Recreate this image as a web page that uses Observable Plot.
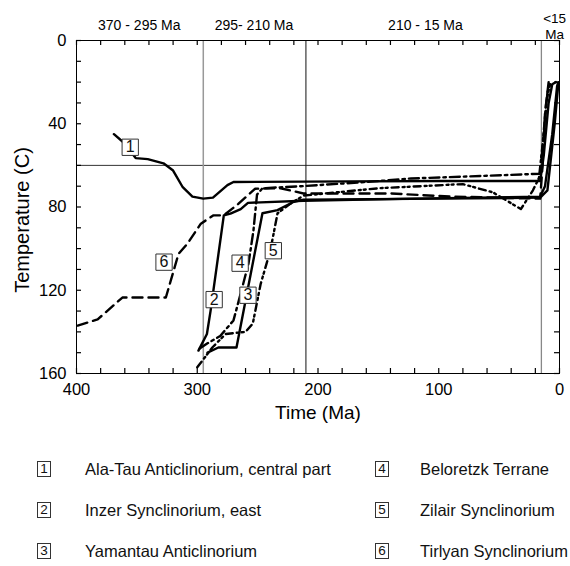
<!DOCTYPE html>
<html>
<head>
<meta charset="utf-8">
<script src="https://cdn.jsdelivr.net/npm/d3@7"></script>
<script src="https://cdn.jsdelivr.net/npm/@observablehq/plot@0.6"></script>
<style>
  html, body { margin: 0; padding: 0; background: #fff; }
  #wrap { position: relative; width: 570px; height: 566px; font-family: "Liberation Sans", Arial, sans-serif; }
  #wrap svg { display: block; }
  .lg-row { position: absolute; height: 20px; line-height: 20px; font-size: 16.5px; color: #111; white-space: nowrap; }
  .lg-box { position: absolute; top: 2px; width: 12px; height: 14px; border: 1px solid #333; font-size: 13.5px; line-height: 14px; text-align: center; }
  .lg-text { position: absolute; top: 0; }
</style>
</head>
<body>
<div id="wrap"></div>
<script>
// Time in Ma, temperature in °C
const curve1 = [[369,45],[361,49],[351,56.5],[341,57],[328,59],[320,62.5],[312,70.5],[304,75],[295,76],[287,75.5],[275,69.5],[270,68],[212,67.8],[100,67.5],[16,67.5],[13,55],[9,30],[6,21],[3,20]];
const curve2 = [[299,149],[292,141],[289,130],[278,84],[272.5,83.2],[264,81],[258,78],[212,77],[120,76],[16,75],[12,70],[6,45],[2,22],[1,20]];
const curve3 = [[291.5,150],[282.5,147.5],[267.5,147.5],[246,83],[233.5,81.5],[220,77.5],[212,76.5],[100,76],[16,75.5],[10,72],[4,40],[1,21]];
const curve4 = [[298,148],[291.5,145.5],[281,142],[270,134.5],[264,121.5],[257.5,107],[253.5,91.5],[250.5,74],[246,71],[214,70],[160,68],[123,66.3],[60,65],[16,64],[13,45],[10,25],[7,20]];
const curve5 = [[300,157],[296,154],[287.5,147.5],[276.5,141],[260,140],[254,136],[247.5,117],[239.5,101],[233.5,83],[223,78.5],[212,74.5],[150,71],[80,69],[55,73],[32,81],[22,72],[17,66],[14,50],[11,30],[8,21]];
const curve6 = [[399,137],[382.5,134],[362,123.5],[326,123.5],[315.5,102.5],[308,97.5],[297,88],[286.5,84],[278,84],[266,78.5],[252,71.2],[231,71],[212,73.5],[140,73.5],[90,75],[16,76],[14,60],[12,35],[9,20]];

const boxNums = ["1","2","3","4","5","6"];
const boxTime = [355.5, 286, 258, 264.5, 237, 327.5];
const boxTemp = [51.3, 124.5, 122.4, 107, 101, 106.5];

const legendNames = [
  "Ala-Tau Anticlinorium, central part",
  "Inzer Synclinorium, east",
  "Yamantau Anticlinorium",
  "Beloretzk Terrane",
  "Zilair Synclinorium",
  "Tirlyan Synclinorium"
];

const periodLabels = ["370 - 295 Ma", "295- 210 Ma", "210 - 15 Ma", "<15\nMa"];
const periodLabelTime = [348, 253, 111, 4];
const periodBounds = [295, 210, 15];
const xTickLabels = [400, 300, 200, 100, 0];
const yTickLabels = [0, 40, 80, 120, 160];
const xMinorTicks = d3.range(0, 401, 20);
const yMinorTicks = d3.range(0, 161, 10);
const refTemp = [60];

const curves = [curve1, curve2, curve3, curve4, curve5, curve6];
const dashes = [null, null, null, "10,4,2.5,4", "7,4,2,3,2,4", "10,6"];

const boxes = boxNums.map((n, i) => ({n, t: boxTime[i], T: boxTemp[i]}));

// split period labels into lines
const labelLines = [];
periodLabels.forEach((s, i) => {
  const parts = s.split("\n");
  parts.forEach((line, j) => labelLines.push({line, j, n: parts.length, t: periodLabelTime[i]}));
});
const lineOffset = d => d.n === 1 ? -15 : (d.j === 0 ? -22 : -6);

const W = 570, H = 440, mL = 76, mR = 11, mT = 40, mB = 67;
const fw = W - mL - mR, fh = H - mT - mB, tk = 5;

const lineMarks = curves.map((c, i) => Plot.line(c, {
  x: d => d[0], y: d => d[1], stroke: "black", strokeWidth: 2.4,
  strokeDasharray: dashes[i] || undefined, strokeLinejoin: "round", curve: "linear"
}));

const labelMarks = [-22, -15, -6].map(off => Plot.text(labelLines.filter(d => lineOffset(d) === off), {
  x: "t", text: "line", frameAnchor: "top", lineAnchor: "middle", dy: off, fontSize: off === -15 ? 14 : 13.5
}));

const chart = Plot.plot({
  width: W,
  height: H,
  marginLeft: mL,
  marginRight: mR,
  marginTop: mT,
  marginBottom: mB,
  x: {domain: [400, 0]},
  y: {domain: [0, 160], reverse: true},
  style: {fontFamily: "'Liberation Sans', Arial, sans-serif", background: "white", color: "black"},
  marks: [
    Plot.ruleY(refTemp, {stroke: "#333", strokeWidth: 1}),
    Plot.ruleX([periodBounds[0]], {stroke: "#999", strokeWidth: 1.5}),
    Plot.ruleX([periodBounds[1]], {stroke: "#111", strokeWidth: 1}),
    Plot.ruleX([periodBounds[2]], {stroke: "#888", strokeWidth: 1.3}),
    ...lineMarks,
    Plot.dot(boxes, {x: "t", y: "T", symbol: "square", r: 9.2, fill: "white", stroke: "#333", strokeWidth: 1}),
    Plot.text(boxes, {x: "t", y: "T", text: "n", fontSize: 16, fill: "#111"}),
    Plot.frame({stroke: "black", strokeWidth: 1}),
    Plot.tickX(xMinorTicks, {x: d => d, insetTop: fh - tk, stroke: "black", strokeWidth: 1.2}),
    Plot.tickX(xMinorTicks, {x: d => d, insetBottom: fh - tk, stroke: "black", strokeWidth: 1.2}),
    Plot.tickY(yMinorTicks, {y: d => d, insetRight: fw - tk, stroke: "black", strokeWidth: 1.2}),
    Plot.tickY(yMinorTicks, {y: d => d, insetLeft: fw - tk, stroke: "black", strokeWidth: 1.2}),
    Plot.axisX({anchor: "bottom", ticks: xTickLabels, tickSize: 0, tickPadding: 10, fontSize: 16.5, label: null}),
    Plot.axisY({anchor: "left", ticks: yTickLabels, tickSize: 0, tickPadding: 10, fontSize: 16.5, label: null}),
    ...labelMarks,
    Plot.text(["Time (Ma)"], {frameAnchor: "bottom", dy: 45, fontSize: 19}),
    Plot.text(["Temperature (C)"], {frameAnchor: "left", textAnchor: "middle", dx: -54, dy: 13, rotate: -90, fontSize: 20})
  ]
});

const wrap = document.getElementById("wrap");
wrap.appendChild(chart);

const rowY = [459, 500, 541];
legendNames.forEach((name, i) => {
  const col = i < 3 ? 0 : 1;
  const row = i % 3;
  const div = document.createElement("div");
  div.className = "lg-row";
  div.style.top = rowY[row] + "px";
  div.style.left = "0px";
  div.style.width = "570px";
  const box = document.createElement("span");
  box.className = "lg-box";
  box.style.left = (col === 0 ? 37 : 375) + "px";
  box.textContent = boxNums[i];
  const txt = document.createElement("span");
  txt.className = "lg-text";
  txt.style.left = (col === 0 ? 85 : 420) + "px";
  txt.textContent = name;
  div.appendChild(box);
  div.appendChild(txt);
  wrap.appendChild(div);
});
</script>
</body>
</html>
